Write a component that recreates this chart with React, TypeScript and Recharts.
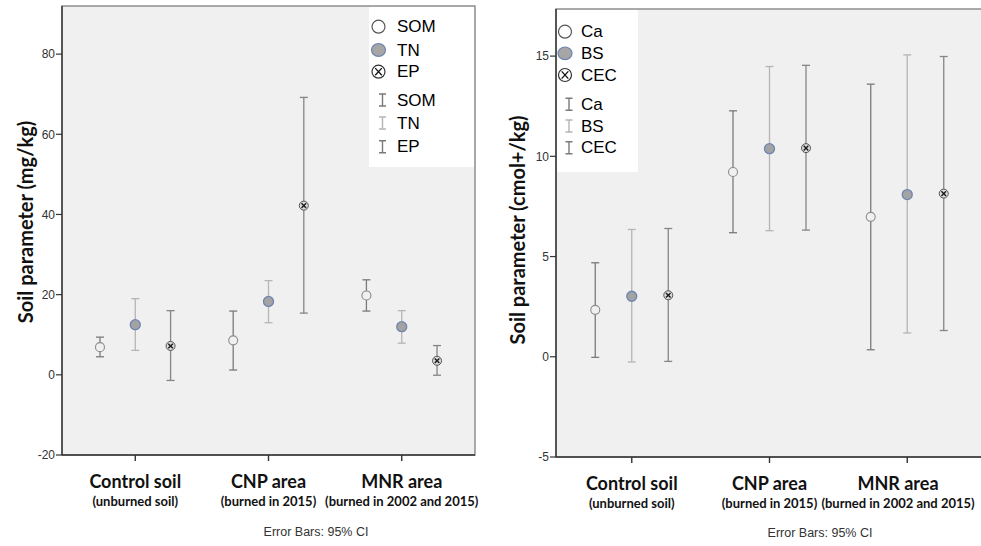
import React from 'react';
import { ComposedChart, Scatter, ErrorBar, XAxis, YAxis, ReferenceArea } from 'recharts';

// groups on the x axis
const categories = ['Control soil', 'CNP area', 'MNR area'];
const categoryNotes = ['(unburned soil)', '(burned in 2015)', '(burned in 2002 and 2015)'];

// left panel, mg/kg (mean and 95% CI)
const somMean = [6.9, 8.6, 19.8];
const somLow = [4.5, 1.2, 15.9];
const somHigh = [9.4, 15.9, 23.7];
const tnMean = [12.5, 18.3, 12.0];
const tnLow = [6.1, 13.0, 7.9];
const tnHigh = [19.0, 23.5, 16.0];
const epMean = [7.2, 42.2, 3.5];
const epLow = [-1.4, 15.4, -0.1];
const epHigh = [16.0, 69.2, 7.3];

// right panel, cmol+/kg
const caMean = [2.34, 9.22, 6.98];
const caLow = [-0.03, 6.19, 0.35];
const caHigh = [4.69, 12.27, 13.6];
const bsMean = [3.02, 10.38, 8.09];
const bsLow = [-0.26, 6.29, 1.19];
const bsHigh = [6.35, 14.48, 15.06];
const cecMean = [3.07, 10.41, 8.14];
const cecLow = [-0.23, 6.32, 1.31];
const cecHigh = [6.4, 14.54, 14.98];

const leftTicks = [-20, 0, 20, 40, 60, 80];
const rightTicks = [-5, 0, 5, 10, 15];

const DODGE = 0.265;
const X_DOMAIN: [number, number] = [-0.55, 2.55];

function build(mean: number[], low: number[], high: number[], shift: number) {
  return categories.map((_, i) => ({
    x: i + shift,
    y: mean[i],
    err: [mean[i] - low[i], high[i] - mean[i]],
  }));
}

const FONT = '"Liberation Sans", Arial, sans-serif';
const BOLD = 'Lato, "Open Sans", sans-serif';

const OpenDot = (p: any) => (
  <circle cx={p.cx} cy={p.cy} r={4.5} fill="#f0f0f0" stroke="#8c8c8c" strokeWidth={1.1} />
);
const FilledDot = (p: any) => (
  <circle cx={p.cx} cy={p.cy} r={5} fill="#a3a3a3" stroke="#6f85b0" strokeWidth={1.3} />
);
const CrossDot = (p: any) => {
  const { cx, cy } = p;
  return (
    <g>
      <circle cx={cx} cy={cy} r={4.5} fill="#dcdcdc" stroke="#555" strokeWidth={1} />
      <path
        d={`M${cx - 2.3},${cy - 2.3}L${cx + 2.3},${cy + 2.3}M${cx + 2.3},${cy - 2.3}L${cx - 2.3},${cy + 2.3}`}
        stroke="#1a1a1a"
        strokeWidth={1.4}
      />
    </g>
  );
};

// labels that would run off the page get pulled left, like SPSS does
const makeCategoryTick = (maxX: number) => (p: any) => {
  const i = Math.round(p.payload.value);
  const x = Math.min(p.x, maxX);
  return (
    <g>
      <text x={x} y={p.y + 25} textAnchor="middle" fontFamily={BOLD} fontWeight={700} fontSize={18} fill="#111">
        {categories[i]}
      </text>
      <text x={x} y={p.y + 43} textAnchor="middle" fontFamily={BOLD} fontWeight={700} fontSize={13} fill="#111">
        {categoryNotes[i]}
      </text>
    </g>
  );
};

interface PanelProps {
  width: number;
  yWidth: number;
  marginTop: number;
  marginRight: number;
  marginBottom: number;
  yDomain: [number, number];
  yTicks: number[];
  labelMaxX: number;
  series: { data: any[]; shape: any; bar: string }[];
}

function Panel({ width, yWidth, marginTop, marginRight, marginBottom, yDomain, yTicks, labelMaxX, series }: PanelProps) {
  const Tick = makeCategoryTick(labelMaxX);
  return (
    <ComposedChart
      width={width}
      height={546}
      margin={{ top: marginTop, right: marginRight, bottom: marginBottom, left: 0 }}
    >
      <ReferenceArea
        x1={X_DOMAIN[0]}
        x2={X_DOMAIN[1]}
        y1={yDomain[0]}
        y2={yDomain[1]}
        fill="#f0f0f0"
        fillOpacity={1}
        stroke="#8f8f8f"
        strokeWidth={1.5}
        ifOverflow="visible"
      />
      <XAxis
        type="number"
        dataKey="x"
        domain={X_DOMAIN}
        ticks={[0, 1, 2]}
        allowDataOverflow
        height={60}
        tickSize={6}
        tickMargin={2}
        axisLine={{ stroke: '#333', strokeWidth: 1.4 }}
        tickLine={{ stroke: '#333', strokeWidth: 1.4 }}
        tick={<Tick />}
        interval={0}
      />
      <YAxis
        type="number"
        dataKey="y"
        domain={yDomain}
        ticks={yTicks}
        allowDataOverflow
        width={yWidth}
        tickSize={6}
        tickMargin={1}
        interval={0}
        axisLine={{ stroke: '#333', strokeWidth: 1.4 }}
        tickLine={{ stroke: '#333', strokeWidth: 1.2 }}
        tick={{ fontFamily: FONT, fontSize: 12, fill: '#333' }}
      />
      {series.map((s, k) => (
        <Scatter key={k} data={s.data} shape={s.shape} isAnimationActive={false}>
          <ErrorBar dataKey="err" direction="y" width={4} stroke={s.bar} strokeWidth={1.3} />
        </Scatter>
      ))}
    </ComposedChart>
  );
}

const BarIcon = ({ x, y, color }: { x: number; y: number; color: string }) => (
  <path d={`M${x - 3.5},${y - 6}H${x + 3.5}M${x},${y - 6}V${y + 6}M${x - 3.5},${y + 6}H${x + 3.5}`} stroke={color} strokeWidth={1.4} fill="none" />
);

function LegendBox(props: {
  box: [number, number, number, number];
  markX: number;
  textX: number;
  rows: number[];
  names: string[];
  bars: string[];
}) {
  const { box, markX, textX, rows, names, bars } = props;
  const t = (i: number, s: string) => (
    <text x={textX} y={rows[i]} dominantBaseline="central" fontFamily={FONT} fontSize={17} fill="#000">
      {s}
    </text>
  );
  return (
    <g>
      <rect x={box[0]} y={box[1]} width={box[2]} height={box[3]} fill="#fff" />
      <circle cx={markX} cy={rows[0]} r={6.5} fill="#fff" stroke="#555" strokeWidth={1.2} />
      <ellipse cx={markX} cy={rows[1]} rx={7} ry={6.3} fill="#a6a6a6" stroke="#6f85b0" strokeWidth={1.2} />
      <circle cx={markX} cy={rows[2]} r={6.5} fill="#fff" stroke="#333" strokeWidth={1.2} />
      <path
        d={`M${markX - 3.3},${rows[2] - 3.6}L${markX + 3.3},${rows[2] + 3.6}M${markX + 3.3},${rows[2] - 3.6}L${markX - 3.3},${rows[2] + 3.6}`}
        stroke="#111"
        strokeWidth={1.3}
      />
      {t(0, names[0])}
      {t(1, names[1])}
      {t(2, names[2])}
      <BarIcon x={markX + 4} y={rows[3]} color={bars[0]} />
      <BarIcon x={markX + 4} y={rows[4]} color={bars[1]} />
      <BarIcon x={markX + 4} y={rows[5]} color={bars[2]} />
      {t(3, names[0])}
      {t(4, names[1])}
      {t(5, names[2])}
    </g>
  );
}

const DARK_BAR = '#7a7a7a';
const LIGHT_BAR = '#b5b5b5';
const MID_BAR = '#858585';

export default function App() {
  const leftSeries = [
    { data: build(somMean, somLow, somHigh, -DODGE), shape: OpenDot, bar: DARK_BAR },
    { data: build(tnMean, tnLow, tnHigh, 0), shape: FilledDot, bar: LIGHT_BAR },
    { data: build(epMean, epLow, epHigh, DODGE), shape: CrossDot, bar: MID_BAR },
  ];
  const rightSeries = [
    { data: build(caMean, caLow, caHigh, -DODGE), shape: OpenDot, bar: DARK_BAR },
    { data: build(bsMean, bsLow, bsHigh, 0), shape: FilledDot, bar: LIGHT_BAR },
    { data: build(cecMean, cecLow, cecHigh, DODGE), shape: CrossDot, bar: MID_BAR },
  ];

  return (
    <div style={{ position: 'absolute', left: 0, top: 0, width: 981, height: 546, overflow: 'hidden', background: '#fff' }}>
      <div style={{ position: 'absolute', left: 0, top: 0 }}>
        <Panel
          width={490}
          yWidth={62}
          marginTop={6}
          marginRight={15}
          marginBottom={31}
          yDomain={[-20, 92]}
          yTicks={leftTicks}
          labelMaxX={1000}
          series={leftSeries}
        />
      </div>
      <div style={{ position: 'absolute', left: 490, top: 0 }}>
        <Panel
          width={496}
          yWidth={66}
          marginTop={9}
          marginRight={3}
          marginBottom={29}
          yDomain={[-5, 17.35]}
          yTicks={rightTicks}
          labelMaxX={408}
          series={rightSeries}
        />
      </div>
      <svg width={981} height={546} style={{ position: 'absolute', left: 0, top: 0, pointerEvents: 'none' }}>
        <LegendBox
          box={[369, 7, 105, 160]}
          markX={378.5}
          textX={397}
          rows={[26.7, 50, 71.7, 100, 123, 146.7]}
          names={['SOM', 'TN', 'EP']}
          bars={[DARK_BAR, LIGHT_BAR, DARK_BAR]}
        />
        <LegendBox
          box={[557, 10, 81, 162]}
          markX={565}
          textX={581}
          rows={[31.7, 53.3, 75, 104.3, 126, 147.7]}
          names={['Ca', 'BS', 'CEC']}
          bars={[DARK_BAR, LIGHT_BAR, DARK_BAR]}
        />
        <text
          transform="translate(25,222) rotate(-90)"
          textAnchor="middle"
          dominantBaseline="central"
          fontFamily={BOLD}
          fontWeight={700}
          fontSize={20}
          fill="#111"
        >
          Soil parameter (mg/kg)
        </text>
        <text
          transform="translate(517,230) rotate(-90)"
          textAnchor="middle"
          dominantBaseline="central"
          fontFamily={BOLD}
          fontWeight={700}
          fontSize={20}
          fill="#111"
        >
          Soil parameter (cmol+/kg)
        </text>
        <text x={316} y={532} textAnchor="middle" dominantBaseline="central" fontFamily={FONT} fontSize={12.5} fill="#333">
          Error Bars: 95% CI
        </text>
        <text x={820} y={533} textAnchor="middle" dominantBaseline="central" fontFamily={FONT} fontSize={12.5} fill="#333">
          Error Bars: 95% CI
        </text>
      </svg>
    </div>
  );
}
